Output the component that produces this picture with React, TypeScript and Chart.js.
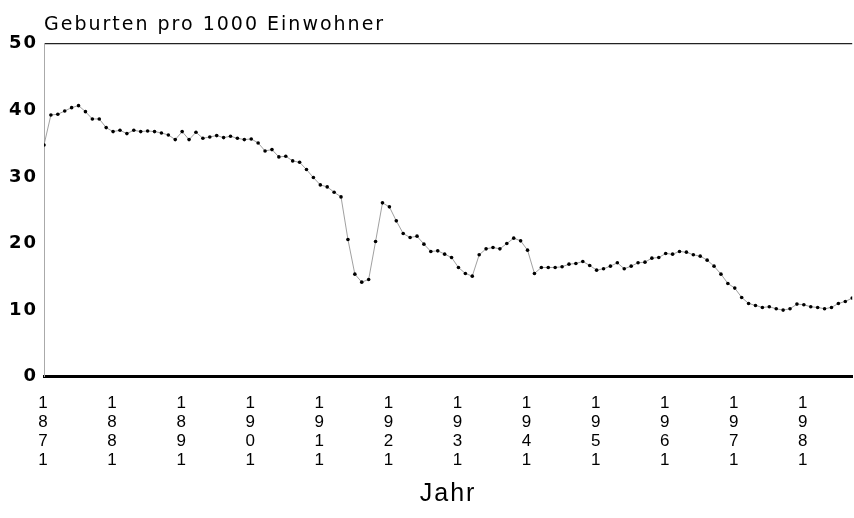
import React, { useEffect, useRef } from 'react';
import { Chart, registerables } from 'chart.js';

Chart.register(...registerables);

const chartTitle = 'Geburten pro 1000 Einwohner';
const xAxisTitle = 'Jahr';

const years = [
  1871, 1872, 1873, 1874, 1875, 1876, 1877, 1878, 1879, 1880,
  1881, 1882, 1883, 1884, 1885, 1886, 1887, 1888, 1889, 1890,
  1891, 1892, 1893, 1894, 1895, 1896, 1897, 1898, 1899, 1900,
  1901, 1902, 1903, 1904, 1905, 1906, 1907, 1908, 1909, 1910,
  1911, 1912, 1913, 1914, 1915, 1916, 1917, 1918, 1919, 1920,
  1921, 1922, 1923, 1924, 1925, 1926, 1927, 1928, 1929, 1930,
  1931, 1932, 1933, 1934, 1935, 1936, 1937, 1938, 1939, 1940,
  1941, 1942, 1943, 1944, 1945, 1946, 1947, 1948, 1949, 1950,
  1951, 1952, 1953, 1954, 1955, 1956, 1957, 1958, 1959, 1960,
  1961, 1962, 1963, 1964, 1965, 1966, 1967, 1968, 1969, 1970,
  1971, 1972, 1973, 1974, 1975, 1976, 1977, 1978, 1979, 1980,
  1981, 1982, 1983, 1984, 1985, 1986, 1987, 1988,
];

const births = [
  34.8, 39.3, 39.4, 39.9, 40.4, 40.7, 39.8, 38.7, 38.7, 37.4,
  36.8, 37.0, 36.5, 37.0, 36.8, 36.9, 36.8, 36.6, 36.3, 35.6,
  36.8, 35.6, 36.7, 35.8, 36.0, 36.2, 35.9, 36.1, 35.8, 35.6,
  35.7, 35.1, 33.9, 34.1, 33.0, 33.1, 32.4, 32.2, 31.1, 29.9,
  28.8, 28.5, 27.7, 27.0, 20.6, 15.4, 14.2, 14.6, 20.3, 26.1,
  25.5, 23.4, 21.5, 20.9, 21.1, 19.9, 18.8, 18.9, 18.4, 17.9,
  16.4, 15.5, 15.1, 18.3, 19.2, 19.4, 19.2, 20.0, 20.8, 20.4,
  19.0, 15.5, 16.4, 16.4, 16.4, 16.5, 16.9, 17.0, 17.3, 16.7,
  16.0, 16.2, 16.6, 17.1, 16.2, 16.6, 17.1, 17.2, 17.8, 17.9,
  18.5, 18.4, 18.8, 18.7, 18.3, 18.1, 17.5, 16.6, 15.4, 14.0,
  13.3, 11.9, 11.0, 10.7, 10.4, 10.5, 10.2, 10.0, 10.2, 10.9,
  10.8, 10.5, 10.4, 10.2, 10.4, 11.0, 11.3, 11.8,
];

const xTickYears = [1871, 1881, 1891, 1901, 1911, 1921, 1931, 1941, 1951, 1961, 1971, 1981];
const yTickValues = [0, 10, 20, 30, 40, 50];

const spacingPlugin = {
  id: 'letterSpacing',
  beforeDraw(chart: any) {
    chart.ctx.letterSpacing = '2px';
  },
  afterDraw(chart: any) {
    chart.ctx.letterSpacing = '0px';
  },
};

export default function App() {
  const canvasRef = useRef<HTMLCanvasElement | null>(null);

  useEffect(() => {
    if (!canvasRef.current) return;
    const points = years.map((y, i) => ({ x: y, y: births[i] }));
    const chart = new Chart(canvasRef.current, {
      type: 'line',
      data: {
        datasets: [
          {
            data: points,
            borderColor: '#888',
            borderWidth: 0.8,
            pointRadius: 1.8,
            pointBackgroundColor: '#000',
            pointBorderWidth: 0,
            pointHoverRadius: 1.8,
            tension: 0,
            fill: false,
          },
        ],
      },
      options: {
        animation: false,
        responsive: true,
        maintainAspectRatio: false,
        layout: { padding: 0 },
        plugins: {
          legend: { display: false },
          tooltip: { enabled: false },
          title: {
            display: true,
            text: chartTitle,
            align: 'start',
            fullSize: false,
            color: '#000',
            font: { family: 'DejaVu Sans', size: 19, weight: 'normal', lineHeight: 1.2 },
            padding: { top: 14.1, bottom: 6.8 },
          },
        },
        scales: {
          x: {
            type: 'linear',
            min: 1871,
            max: 1988,
            afterBuildTicks: (scale: any) => {
              scale.ticks = xTickYears.map((v) => ({ value: v }));
            },
            afterFit: (scale: any) => {
              scale.height = 141.3;
            },
            grid: { display: false, drawTicks: false },
            border: { display: true, color: '#000', width: 3 },
            ticks: {
              autoSkip: false,
              maxRotation: 0,
              padding: 17.75,
              color: '#000',
              font: { family: 'Liberation Sans', size: 17, lineHeight: '18.7px' },
              callback: (value: any) => String(value).split(''),
            },
            title: {
              display: true,
              text: xAxisTitle,
              color: '#000',
              font: { family: 'Liberation Sans', size: 25, lineHeight: 1.2 },
              padding: { top: 0, bottom: 9 },
            },
          },
          y: {
            min: 0,
            max: 50,
            afterBuildTicks: (scale: any) => {
              scale.ticks = yTickValues.map((v) => ({ value: v }));
            },
            afterFit: (scale: any) => {
              scale.width = 44;
            },
            grid: {
              drawTicks: false,
              color: (ctx: any) => (ctx.tick && ctx.tick.value === 50 ? '#222' : 'rgba(0,0,0,0)'),
              lineWidth: (ctx: any) => (ctx.tick && ctx.tick.value === 50 ? 1.2 : 0),
            },
            border: { display: true, color: '#aaa', width: 1 },
            ticks: {
              padding: 6,
              color: '#000',
              font: { family: 'DejaVu Sans', size: 18, weight: 'bold' },
            },
          },
        },
      },
      plugins: [spacingPlugin],
    });
    return () => chart.destroy();
  }, []);

  return (
    <div style={{ position: 'absolute', left: 0, top: 0, width: 854, height: 518 }}>
      <canvas ref={canvasRef} />
    </div>
  );
}
